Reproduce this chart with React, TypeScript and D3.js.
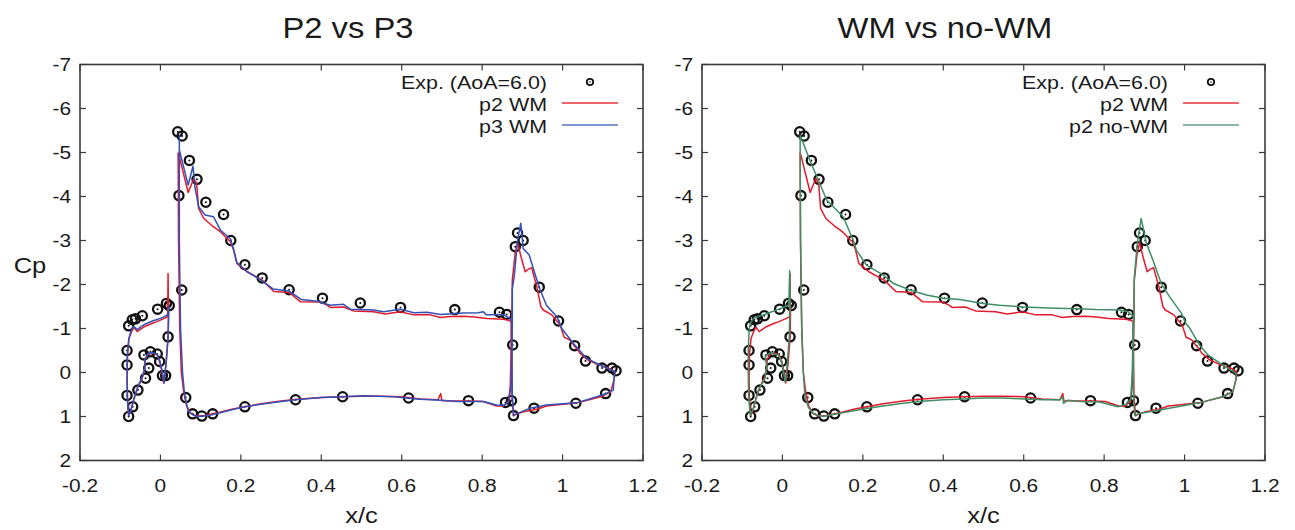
import React from "react";
import * as d3 from "d3";

type Pt = [number, number];

// ---------- Data ----------
const xTicks = [-0.2, 0, 0.2, 0.4, 0.6, 0.8, 1, 1.2];
const yTicks = [-7, -6, -5, -4, -3, -2, -1, 0, 1, 2];

const expPoints: Pt[] = [
  // slat
  [-0.083, 0.52], [-0.079, 1.0], [-0.069, 0.78], [-0.056, 0.4], [-0.037, 0.13], [-0.029, -0.1],
  [-0.041, -0.4], [-0.025, -0.47], [-0.008, -0.42], [-0.002, -0.25], [0.005, 0.07], [0.013, 0.07],
  [0.019, -0.81], [-0.083, -0.17], [-0.083, -0.5], [-0.079, -1.06], [-0.07, -1.2], [-0.062, -1.22],
  [-0.045, -1.29], [-0.007, -1.44], [0.015, -1.57], [0.022, -1.52],
  // main
  [0.043, -5.47], [0.054, -5.375], [0.046, -4.02], [0.072, -4.82], [0.091, -4.39], [0.113, -3.87],
  [0.157, -3.59], [0.175, -3.0], [0.21, -2.45], [0.253, -2.15], [0.32, -1.88], [0.403, -1.69],
  [0.497, -1.58], [0.597, -1.48], [0.732, -1.43], [0.843, -1.37], [0.861, -1.32], [0.876, -0.625],
  [0.053, -1.875], [0.063, 0.57], [0.08, 0.94], [0.103, 0.99], [0.13, 0.94], [0.21, 0.78],
  [0.336, 0.62], [0.453, 0.55], [0.617, 0.58], [0.766, 0.64], [0.858, 0.68],
  // flap
  [0.888, -3.17], [0.902, -3.0], [0.8825, -2.86], [0.942, -1.94], [0.99, -1.17], [1.03, -0.61],
  [1.057, -0.26], [1.098, -0.1], [1.123, -0.1], [1.133, -0.04], [1.107, 0.48], [1.033, 0.7],
  [0.929, 0.81], [0.878, 0.98], [0.873, 0.64],
];

// p2 WM (red)
const p2WMSlat: Pt[] = [
  [-0.079, 0.98], [-0.082, 0.6], [-0.083, 0.1], [-0.082, -0.4], [-0.078, -0.78], [-0.072, -0.92],
  [-0.066, -1.03], [-0.062, -0.98], [-0.058, -0.93], [-0.05, -0.98], [-0.04, -1.04], [-0.03, -1.08],
  [-0.02, -1.12], [-0.01, -1.15], [0.0, -1.19], [0.01, -1.23], [0.018, -1.27], [0.019, -2.25],
  [0.02, -1.3], [0.019, -0.8], [0.014, -0.2], [0.008, 0.24], [0.003, -0.05], [-0.002, -0.25],
  [-0.008, -0.4], [-0.02, -0.44], [-0.031, -0.42], [-0.038, -0.3], [-0.039, -0.08], [-0.045, 0.12],
  [-0.056, 0.33], [-0.066, 0.6], [-0.074, 0.88], [-0.079, 0.98],
];
const p2WMMain: Pt[] = [
  [0.044, -5.0], [0.045, -3.0], [0.048, -1.0], [0.052, 0.0], [0.058, 0.45], [0.065, 0.75],
  [0.075, 0.93], [0.09, 0.99], [0.105, 0.99], [0.125, 0.95], [0.15, 0.9], [0.18, 0.83],
  [0.21, 0.78], [0.25, 0.71], [0.3, 0.65], [0.34, 0.61], [0.4, 0.57], [0.45, 0.55], [0.5, 0.54],
  [0.55, 0.54], [0.6, 0.55], [0.646, 0.6], [0.69, 0.62], [0.697, 0.48], [0.7, 0.64], [0.737, 0.65],
  [0.77, 0.65], [0.803, 0.66], [0.836, 0.76], [0.853, 0.76], [0.866, 0.64], [0.87, 0.3],
  [0.872, -0.5], [0.872, -1.15], [0.866, -1.19], [0.853, -1.21], [0.812, -1.23], [0.78, -1.26],
  [0.754, -1.28], [0.72, -1.27], [0.696, -1.25], [0.671, -1.31], [0.63, -1.31], [0.596, -1.38],
  [0.559, -1.33], [0.53, -1.38], [0.48, -1.4], [0.455, -1.49], [0.422, -1.48], [0.414, -1.53],
  [0.398, -1.6], [0.348, -1.61], [0.32, -1.82], [0.282, -1.84], [0.253, -2.1], [0.215, -2.29],
  [0.19, -2.48], [0.182, -2.78], [0.174, -2.97], [0.149, -3.2], [0.128, -3.34], [0.108, -3.5],
  [0.095, -3.73], [0.09, -4.3], [0.083, -4.41], [0.069, -4.09], [0.047, -4.9], [0.044, -5.0],
];
const p2WMFlap: Pt[] = [
  [0.878, 0.97], [0.874, 0.5], [0.873, -0.5], [0.874, -1.3], [0.875, -2.1], [0.882, -2.7],
  [0.888, -2.95], [0.897, -2.62], [0.907, -2.29], [0.915, -2.35], [0.923, -2.38], [0.936, -1.95],
  [0.946, -1.5], [0.952, -1.42], [0.973, -1.31], [0.994, -1.08], [1.004, -0.8], [1.018, -0.74],
  [1.03, -0.6], [1.043, -0.44], [1.06, -0.3], [1.085, -0.19], [1.12, -0.08], [1.13, 0.0],
  [1.128, 0.15], [1.12, 0.44], [1.095, 0.55], [1.037, 0.69], [0.96, 0.76], [0.938, 0.83],
  [0.9, 0.9], [0.878, 0.97],
];

// p3 WM (blue)
const p3WMSlat: Pt[] = [
  [-0.079, 0.98], [-0.082, 0.6], [-0.083, 0.1], [-0.082, -0.4], [-0.079, -0.75], [-0.074, -0.92],
  [-0.068, -1.05], [-0.063, -1.02], [-0.058, -0.97], [-0.05, -1.03], [-0.04, -1.09], [-0.03, -1.13],
  [-0.02, -1.17], [-0.01, -1.2], [0.0, -1.23], [0.01, -1.27], [0.019, -1.32], [0.021, -1.5],
  [0.019, -0.8], [0.014, -0.2], [0.009, 0.24], [0.004, -0.05], [-0.002, -0.27], [-0.008, -0.42],
  [-0.02, -0.45], [-0.031, -0.43], [-0.038, -0.3], [-0.039, -0.08], [-0.045, 0.1], [-0.056, 0.32],
  [-0.066, 0.6], [-0.074, 0.88], [-0.079, 0.98],
];
const p3WMMain: Pt[] = [
  [0.047, -5.4], [0.047, -3.0], [0.05, -1.0], [0.055, 0.0], [0.06, 0.5], [0.068, 0.85],
  [0.08, 0.96], [0.092, 1.0], [0.12, 0.98], [0.141, 0.93], [0.18, 0.84], [0.21, 0.78],
  [0.25, 0.72], [0.3, 0.66], [0.336, 0.62], [0.4, 0.57], [0.453, 0.55], [0.505, 0.53],
  [0.58, 0.55], [0.646, 0.61], [0.7, 0.63], [0.737, 0.66], [0.803, 0.66], [0.836, 0.74],
  [0.853, 0.75], [0.865, 0.68], [0.872, 0.3], [0.874, -0.5], [0.874, -1.15], [0.87, -1.23],
  [0.853, -1.31], [0.81, -1.31], [0.803, -1.38], [0.79, -1.36], [0.754, -1.35], [0.696, -1.32],
  [0.663, -1.37], [0.63, -1.36], [0.596, -1.44], [0.555, -1.38], [0.53, -1.42], [0.472, -1.44],
  [0.455, -1.55], [0.422, -1.53], [0.39, -1.62], [0.35, -1.66], [0.32, -1.85], [0.28, -1.9],
  [0.25, -2.1], [0.215, -2.3], [0.19, -2.5], [0.182, -2.8], [0.174, -3.04], [0.149, -3.24],
  [0.132, -3.54], [0.111, -3.58], [0.095, -3.77], [0.086, -4.2], [0.081, -4.69], [0.069, -4.26],
  [0.047, -5.06], [0.047, -5.4],
];
const p3WMFlap: Pt[] = [
  [0.878, 0.97], [0.875, 0.5], [0.874, -0.5], [0.875, -1.2], [0.875, -1.9], [0.88, -2.2],
  [0.888, -3.0], [0.896, -3.39], [0.902, -2.82], [0.917, -2.67], [0.932, -2.22], [0.944, -1.88],
  [0.96, -1.53], [0.985, -1.27], [0.99, -1.19], [0.998, -1.0], [1.027, -0.66], [1.06, -0.32],
  [1.093, -0.17], [1.13, -0.02], [1.128, 0.15], [1.126, 0.4], [1.11, 0.47], [1.085, 0.55],
  [1.035, 0.69], [0.96, 0.74], [0.919, 0.81], [0.878, 0.97],
];

// p2 no-WM (green)
const p2NoWMSlat: Pt[] = [
  [-0.08, 0.98], [-0.084, 0.55], [-0.085, 0.0], [-0.085, -0.5], [-0.083, -0.95], [-0.08, -1.12],
  [-0.072, -1.23], [-0.06, -1.27], [-0.048, -1.31], [-0.03, -1.37], [-0.009, -1.44], [0.005, -1.49],
  [0.016, -1.53], [0.018, -2.31], [0.019, -1.55], [0.017, -0.81], [0.012, -0.2], [0.007, 0.22],
  [0.002, -0.05], [-0.003, -0.25], [-0.01, -0.4], [-0.031, -0.44], [-0.043, -0.36], [-0.039, -0.13],
  [-0.043, 0.13], [-0.06, 0.4], [-0.072, 0.8], [-0.08, 0.98],
];
const p2NoWMMain: Pt[] = [
  [0.044, -5.4], [0.045, -3.0], [0.048, -1.0], [0.052, 0.0], [0.056, 0.55], [0.065, 0.8],
  [0.077, 0.93], [0.09, 0.98], [0.101, 1.0], [0.13, 0.95], [0.16, 0.9], [0.21, 0.82],
  [0.25, 0.76], [0.3, 0.7], [0.34, 0.66], [0.4, 0.62], [0.45, 0.6], [0.5, 0.58], [0.55, 0.58],
  [0.6, 0.6], [0.65, 0.62], [0.69, 0.62], [0.697, 0.55], [0.699, 0.7], [0.71, 0.63], [0.74, 0.66],
  [0.789, 0.67], [0.834, 0.78], [0.855, 0.72], [0.866, 0.6], [0.87, 0.0], [0.872, -1.0],
  [0.873, -1.27], [0.86, -1.38], [0.839, -1.42], [0.78, -1.43], [0.732, -1.45], [0.68, -1.46],
  [0.597, -1.49], [0.54, -1.53], [0.499, -1.57], [0.441, -1.66], [0.4, -1.69], [0.358, -1.76],
  [0.317, -1.875], [0.275, -2.03], [0.25, -2.22], [0.209, -2.44], [0.184, -2.78], [0.176, -3.01],
  [0.151, -3.54], [0.11, -3.92], [0.089, -4.375], [0.068, -4.83], [0.044, -5.4],
];
const p2NoWMFlap: Pt[] = [
  [0.876, 0.98], [0.873, 0.5], [0.872, -0.5], [0.874, -1.2], [0.875, -2.16], [0.882, -2.9],
  [0.892, -3.5], [0.905, -2.94], [0.921, -2.56], [0.942, -2.02], [0.963, -1.72], [0.992, -1.35],
  [1.004, -1.1], [1.012, -1.02], [1.037, -0.625], [1.058, -0.4], [1.095, -0.17], [1.128, 0.02],
  [1.128, 0.15], [1.12, 0.44], [1.095, 0.55], [1.037, 0.69], [0.938, 0.85], [0.888, 0.93],
  [0.876, 0.98],
];

// ---------- Styles ----------
const RED = "#e31a2c";
const BLUE = "#3150b8";
const GREEN = "#3f8e66";
const FONT = "'Liberation Sans', Arial, Helvetica, sans-serif";
const AXIS = "#3a3a3a";
const SX = 1.16; // horizontal stretch of the text in the reference

interface Series {
  name: string;
  color: string;
  legendColor: string;
  parts: Pt[][];
}

interface PanelProps {
  x0: number;
  x1: number;
  title: string;
  titleX: number;
  series: Series[];
  legendRight: number;
}

function SText({
  x,
  y,
  size,
  anchor,
  children,
  sx = SX,
}: {
  x: number;
  y: number;
  size: number;
  anchor: "start" | "middle" | "end";
  children: React.ReactNode;
  sx?: number;
}) {
  return (
    <text
      transform={`translate(${x},${y}) scale(${sx},1)`}
      fontSize={size}
      textAnchor={anchor}
      fontFamily={FONT}
      fill="#1a1a1a"
    >
      {children}
    </text>
  );
}

const Y0 = 64.5;
const Y1 = 460.5;

function Panel({ x0, x1, title, titleX, series, legendRight }: PanelProps) {
  const xs = d3.scaleLinear().domain([-0.2, 1.2]).range([x0, x1]);
  const ys = d3.scaleLinear().domain([-7, 2]).range([Y0, Y1]);
  const line = d3
    .line<Pt>()
    .x((d) => xs(d[0]))
    .y((d) => ys(d[1]));
  const tk = 6;
  const xFmt = (v: number) => (Math.abs(v) < 1e-9 ? "0" : String(+v.toFixed(1)));
  return (
    <g>
      <SText x={titleX} y={38} size={29} anchor="middle" sx={1.13}>
        {title}
      </SText>
      {xTicks.map((t) => (
        <g key={"xt" + t}>
          <line x1={xs(t)} x2={xs(t)} y1={Y1} y2={Y1 - tk} stroke={AXIS} strokeWidth={1.2} />
          <line x1={xs(t)} x2={xs(t)} y1={Y0} y2={Y0 + tk} stroke={AXIS} strokeWidth={1.2} />
          <SText x={xs(t)} y={492} size={18} anchor="middle">
            {xFmt(t)}
          </SText>
        </g>
      ))}
      {yTicks.map((t) => (
        <g key={"yt" + t}>
          <line x1={x0} x2={x0 + tk} y1={ys(t)} y2={ys(t)} stroke={AXIS} strokeWidth={1.2} />
          <line x1={x1} x2={x1 - tk} y1={ys(t)} y2={ys(t)} stroke={AXIS} strokeWidth={1.2} />
          <SText x={x0 - 9} y={ys(t) + 6.5} size={18} anchor="end">
            {String(t)}
          </SText>
        </g>
      ))}
      <SText x={(x0 + x1) / 2} y={523} size={22} anchor="middle">
        x/c
      </SText>
      {expPoints.map((p, i) => (
        <g key={"e" + i}>
          <circle cx={xs(p[0])} cy={ys(p[1])} r={4.6} fill="none" stroke="#111" strokeWidth={2.3} />
          <circle cx={xs(p[0])} cy={ys(p[1])} r={1} fill="#111" />
        </g>
      ))}
      {series.map((s) =>
        s.parts.map((part, j) => (
          <path
            key={s.name + j}
            d={line(part) || ""}
            fill="none"
            stroke={s.color}
            strokeWidth={1.5}
            strokeLinejoin="round"
          />
        ))
      )}
      <rect x={x0} y={Y0} width={x1 - x0} height={Y1 - Y0} fill="none" stroke={AXIS} strokeWidth={1.6} />
      <SText x={legendRight} y={89} size={18.5} anchor="end">
        Exp. (AoA=6.0)
      </SText>
      <circle cx={legendRight + 43} cy={82} r={3.2} fill="none" stroke="#111" strokeWidth={1.8} />
      <circle cx={legendRight + 43} cy={82} r={0.8} fill="#111" />
      {series.map((s, i) => (
        <g key={"lg" + s.name}>
          <SText x={legendRight} y={111 + i * 21.5} size={18.5} anchor="end">
            {s.name}
          </SText>
          <line
            x1={legendRight + 15}
            x2={legendRight + 71}
            y1={103 + i * 22}
            y2={103 + i * 22}
            stroke={s.legendColor}
            strokeWidth={1.6}
          />
        </g>
      ))}
    </g>
  );
}

export default function App() {
  const red: Series = { name: "p2 WM", color: RED, legendColor: "#e8303a", parts: [p2WMSlat, p2WMMain, p2WMFlap] };
  const blue: Series = { name: "p3 WM", color: BLUE, legendColor: "#5876c0", parts: [p3WMSlat, p3WMMain, p3WMFlap] };
  const green: Series = {
    name: "p2 no-WM",
    color: GREEN,
    legendColor: "#6b9c86",
    parts: [p2NoWMSlat, p2NoWMMain, p2NoWMFlap],
  };
  return (
    <svg width={1295} height={530} style={{ position: "absolute", left: 0, top: 0, background: "#fff" }}>
      <rect x={0} y={0} width={1295} height={530} fill="#fff" />
      <SText x={30} y={273} size={22} anchor="middle">
        Cp
      </SText>
      <Panel x0={80} x1={643} title="P2 vs P3" titleX={348} series={[red, blue]} legendRight={547} />
      <Panel x0={702} x1={1265} title="WM vs no-WM" titleX={945} series={[red, green]} legendRight={1168} />
    </svg>
  );
}
